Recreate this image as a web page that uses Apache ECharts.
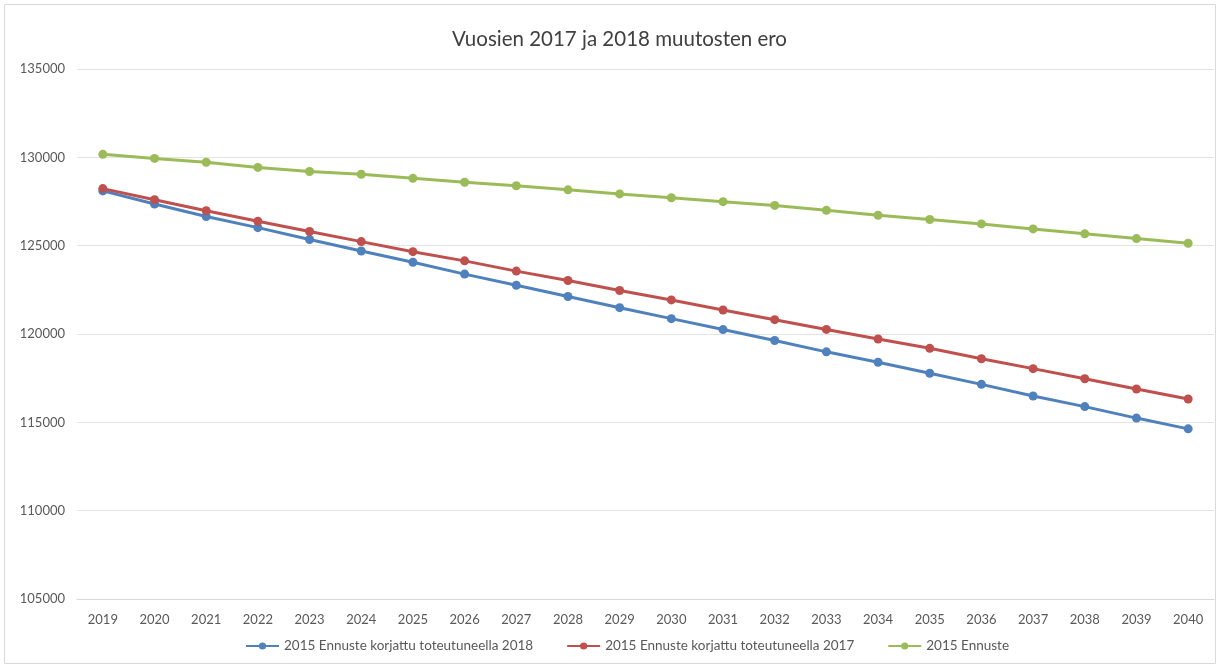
<!DOCTYPE html>
<html>
<head>
<meta charset="utf-8">
<script src="https://cdn.jsdelivr.net/npm/echarts@6/dist/echarts.min.js"></script>
<style>
  html, body { margin: 0; padding: 0; background: #fff; }
  #main { width: 1220px; height: 668px; }
</style>
</head>
<body>
<div id="main"></div>
<script>
var years = ['2019','2020','2021','2022','2023','2024','2025','2026','2027','2028','2029',
             '2030','2031','2032','2033','2034','2035','2036','2037','2038','2039','2040'];

var korjattu2018 = [128100, 127360, 126650, 126020, 125350, 124700, 124060, 123390, 122760, 122120, 121490,
                    120870, 120250, 119630, 118990, 118400, 117780, 117150, 116490, 115890, 115240, 114630];

var korjattu2017 = [128230, 127600, 126980, 126380, 125800, 125230, 124660, 124140, 123560, 123030, 122460,
                    121930, 121360, 120810, 120260, 119720, 119190, 118600, 118040, 117470, 116890, 116320];

var ennuste2015 = [130170, 129940, 129720, 129430, 129200, 129040, 128810, 128590, 128390, 128160, 127930,
                   127710, 127490, 127280, 127000, 126720, 126480, 126230, 125950, 125670, 125400, 125140];

var seriesNames = ['2015 Ennuste korjattu toteutuneella 2018',
                   '2015 Ennuste korjattu toteutuneella 2017',
                   '2015 Ennuste'];

var font = 'Lato, "Open Sans", sans-serif';

function lineSeries(name, data, color){
    return {
        name: name,
        type: 'line',
        data: data,
        symbol: 'circle',
        symbolSize: 9,
        lineStyle: { width: 3, color: color },
        itemStyle: { color: color },
        emphasis: { disabled: true }
    };
}

var myChart = echarts.init(document.getElementById('main'));
var option = {
    animation: false,
    textStyle: { fontFamily: font },
    title: {
        text: 'Vuosien 2017 ja 2018 muutosten ero',
        left: 447,
        top: 24,
        textStyle: { fontFamily: font, fontSize: 20.5, fontWeight: 'normal', color: '#404040' }
    },
    graphic: [{
        type: 'rect',
        shape: { x: 4.5, y: 4.5, width: 1211, height: 659 },
        style: { fill: 'none', stroke: '#d9d9d9', lineWidth: 1 },
        silent: true
    }],
    legend: {
        bottom: 10,
        left: 240,
        itemGap: 33,
        itemWidth: 33,
        itemHeight: 9,
        textStyle: { fontFamily: font, fontSize: 13.5, color: '#595959' },
        data: seriesNames
    },
    grid: {
        left: 77,
        right: 6,
        top: 69,
        bottom: 69,
        containLabel: false
    },
    xAxis: {
        type: 'category',
        data: years,
        boundaryGap: true,
        axisLine: { lineStyle: { color: '#d9d9d9' } },
        axisTick: { show: false },
        axisLabel: { color: '#595959', fontSize: 13, fontFamily: font, margin: 14 }
    },
    yAxis: {
        type: 'value',
        min: 105000,
        max: 135000,
        interval: 5000,
        axisLine: { show: false },
        axisTick: { show: false },
        axisLabel: {
            color: '#595959', fontSize: 13, fontFamily: font, margin: 12,
            formatter: function (v) { return String(v); }
        },
        splitLine: { lineStyle: { color: '#e3e3e3' } }
    },
    series: [
        lineSeries(seriesNames[0], korjattu2018, '#4f81bd'),
        lineSeries(seriesNames[1], korjattu2017, '#c0504d'),
        lineSeries(seriesNames[2], ennuste2015, '#9bbb59')
    ]
};
myChart.setOption(option);
</script>
</body>
</html>
